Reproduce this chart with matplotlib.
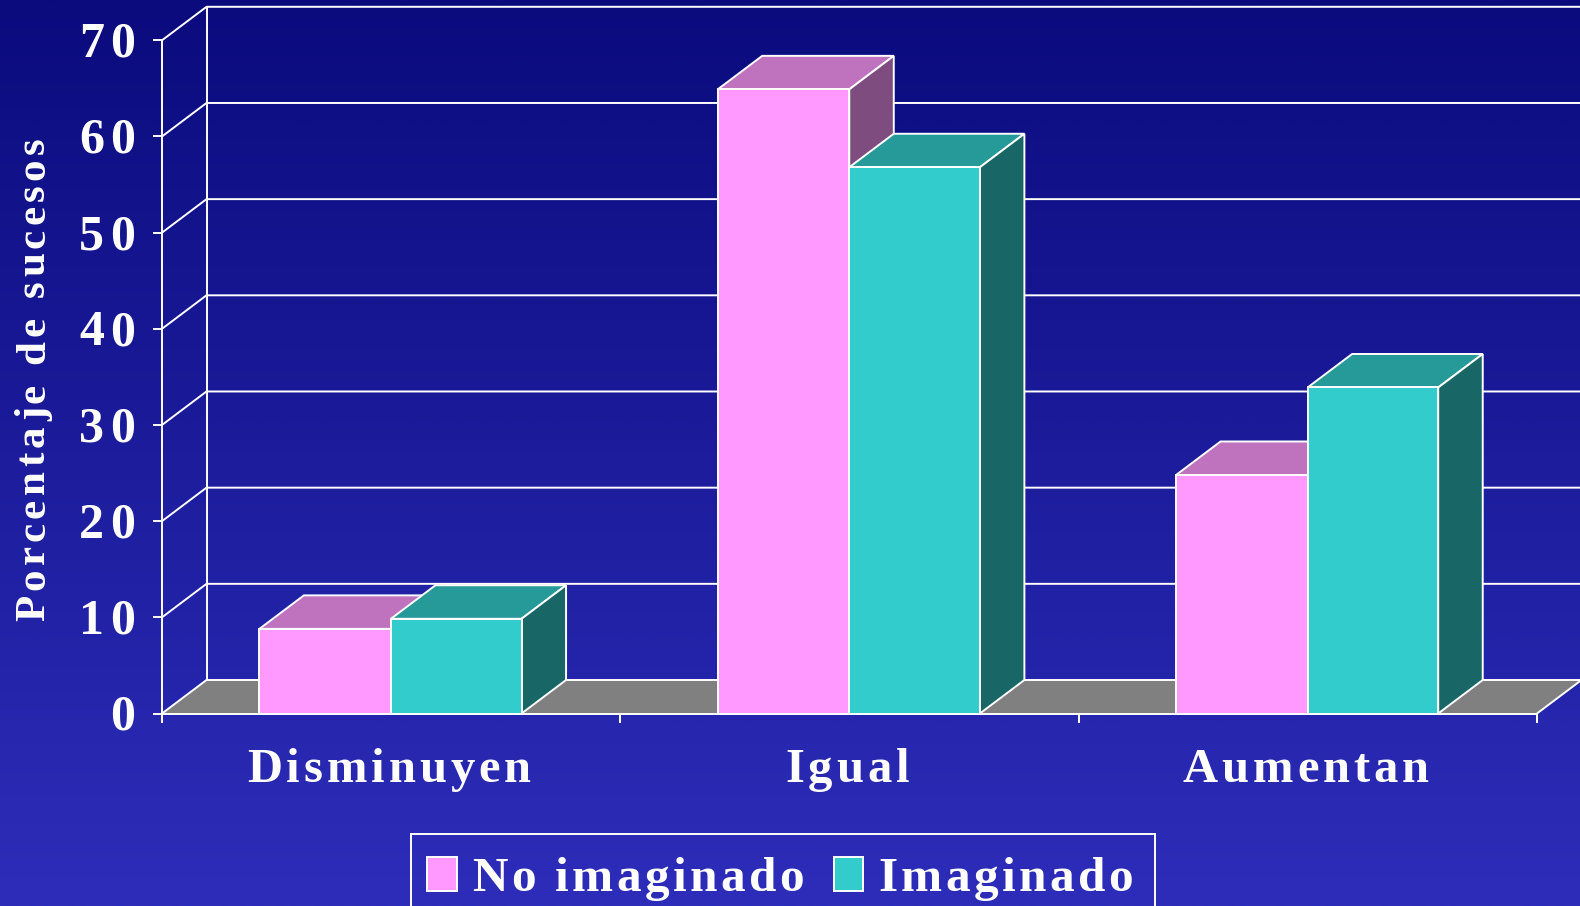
import numpy as np
import matplotlib
matplotlib.use("Agg")
import matplotlib.pyplot as plt
from matplotlib.patches import Patch, Rectangle
from matplotlib.colors import LinearSegmentedColormap

categories = ["Disminuyen", "Igual", "Aumentan"]
series_names = ["No imaginado", "Imaginado"]
no_imaginado = [8.8, 64.9, 24.8]
imaginado = [9.85, 56.8, 33.9]
y_ticks = [0, 10, 20, 30, 40, 50, 60, 70]

W, H = 1580, 906
AX_L, AX_R, AX_B, AX_T = 162, 1537, 713.5, 40.3
WHITE = "#FFFFFF"
PINK = ("#FF99FF", "#BF73BF", "#7F4C7F")
TEAL = ("#33CCCC", "#269999", "#196666")
FLOOR = "#808080"
LW = 1.4
FONT = "Liberation Serif"

plt.rcParams["font.family"] = [FONT, "DejaVu Sans"]
plt.rcParams["font.weight"] = "bold"

fig = plt.figure(figsize=(W / 100, H / 100), dpi=100)
bg = fig.add_axes([0, 0, 1, 1], zorder=-1)
cmap = LinearSegmentedColormap.from_list("bg", ["#0B0B7E", "#2D2DBA"])
bg.imshow(np.linspace(0, 1, 400)[:, None], aspect="auto", cmap=cmap, interpolation="bilinear")
bg.axis("off")

ax = fig.add_axes([AX_L / W, (H - AX_B) / H, (AX_R - AX_L) / W, (AX_B - AX_T) / H])
ax.patch.set_visible(False)
ax.set_xlim(0, 3)
ax.set_ylim(0, 70)
DX = 44.5 / ((AX_R - AX_L) / 3)
DY = 33.5 / ((AX_B - AX_T) / 70)

# floor and walls
ax.fill([0, 3, 3 + DX, DX], [0, 0, DY, DY], color=FLOOR, zorder=1, clip_on=False, lw=0)
for v in y_ticks:
    ax.plot([0, DX, 3 + DX], [v, v + DY, v + DY], color=WHITE, lw=LW, zorder=2, clip_on=False)
ax.plot([DX, DX], [DY, 70 + DY], color=WHITE, lw=LW, zorder=2, clip_on=False)
ax.plot([3, 3 + DX, 3 + DX], [0, DY, 70 + DY], color=WHITE, lw=LW, zorder=2, clip_on=False)

# bars
BAR_A, BAR_B, MID = 0.287, 0.285, 0.4995
z = 3
for i, (a, b) in enumerate(zip(no_imaginado, imaginado)):
    for left, width, val, cols in ((i + MID - BAR_A, BAR_A, a, PINK), (i + MID, BAR_B, b, TEAL)):
        right = left + width
        ax.fill([left, right, right + DX, left + DX], [val, val, val + DY, val + DY],
                facecolor=cols[1], edgecolor=WHITE, lw=LW, zorder=z, clip_on=False, joinstyle="miter")
        ax.fill([right, right + DX, right + DX, right], [0, DY, val + DY, val],
                facecolor=cols[2], edgecolor=WHITE, lw=LW, zorder=z, clip_on=False, joinstyle="miter")
        ax.bar(left, val, width, align="edge", facecolor=cols[0], edgecolor=WHITE, lw=LW,
               zorder=z + 0.5, clip_on=False)
        z += 1


def spaced(text, gap):
    """Draw a Text with extra letter spacing (px); the string stays one real text."""
    def draw(renderer):
        s = text.get_text()
        if not s or not text.get_visible():
            return
        fp = text.get_fontproperties()
        adv = lambda t: renderer.get_text_width_height_descent(t, fp, False)[0] if t else 0
        cap = renderer.get_text_width_height_descent("H", fp, False)[1]
        x, y = text.get_transform().transform(text.get_unitless_position())
        total = adv(s) + gap * (len(s) - 1)
        start = {"left": 0, "center": -total / 2, "right": -total}[text.get_ha()]
        va = text.get_va()
        up = {"top": -cap, "center": -cap / 2, "center_baseline": -cap / 2}.get(va, 0)
        rot = text.get_rotation()
        gc = renderer.new_gc()
        gc.set_foreground(text.get_color())
        for i, ch in enumerate(s):
            d = start + adv(s[:i + 1]) - adv(ch) + gap * i
            if rot == 90:
                px, py = x - up, y + d
            else:
                px, py = x + d, y + up
            if renderer.flipy():
                py = renderer.get_canvas_width_height()[1] - py
            renderer.draw_text(gc, px, py, ch, fp, rot, ismath=False)
        gc.restore()
    text.draw = draw


# axes
for s in ("top", "right"):
    ax.spines[s].set_visible(False)
for s in ("left", "bottom"):
    ax.spines[s].set_color(WHITE)
    ax.spines[s].set_linewidth(LW)
    ax.spines[s].set_zorder(20)
ax.set_yticks(y_ticks)
ax.set_yticklabels([str(v) for v in y_ticks])
ax.tick_params(axis="y", length=6.5, width=LW, color=WHITE, labelcolor=WHITE, labelsize=36, pad=13)
ax.set_xticks(range(len(categories) + 1))
ax.set_xticklabels([])
ax.tick_params(axis="x", which="major", length=6.5, width=LW, color=WHITE)
ax.set_xticks(np.arange(len(categories)) + 0.495, minor=True)
ax.set_xticklabels(categories, minor=True)
ax.tick_params(axis="x", which="minor", length=0, labelcolor=WHITE, labelsize=35, pad=26)
for t in ax.yaxis.get_major_ticks():
    spaced(t.label1, 6)
for t in ax.xaxis.get_minor_ticks():
    spaced(t.label1, 3.9)

ax.set_ylabel("Porcentaje de sucesos", color=WHITE, fontsize=31, fontweight="bold",
              va="baseline", ha="center")
ax.yaxis.set_label_coords((44 - AX_L) / (AX_R - AX_L), 0.497)
spaced(ax.yaxis.label, 4.4)

# legend
handles = [Patch(facecolor=PINK[0], edgecolor=WHITE, lw=LW),
           Patch(facecolor=TEAL[0], edgecolor=WHITE, lw=LW)]
leg = ax.legend(handles, series_names, ncol=2, frameon=False, fontsize=35.5,
                loc="upper left", bbox_to_anchor=(411 / W, (H - 841) / H),
                bbox_transform=fig.transFigure, borderpad=0.33, borderaxespad=0,
                handlelength=0.6, handleheight=0.66, handletextpad=0.31, columnspacing=1.36,
                labelcolor=WHITE)
for t in leg.get_texts():
    spaced(t, 3.4)
fig.add_artist(Rectangle((411 / W, -0.01), (1155 - 411) / W, (H - 834) / H + 0.01,
                         transform=fig.transFigure, facecolor="none", edgecolor=WHITE, lw=LW))

fig.savefig("out.png", dpi=100)
